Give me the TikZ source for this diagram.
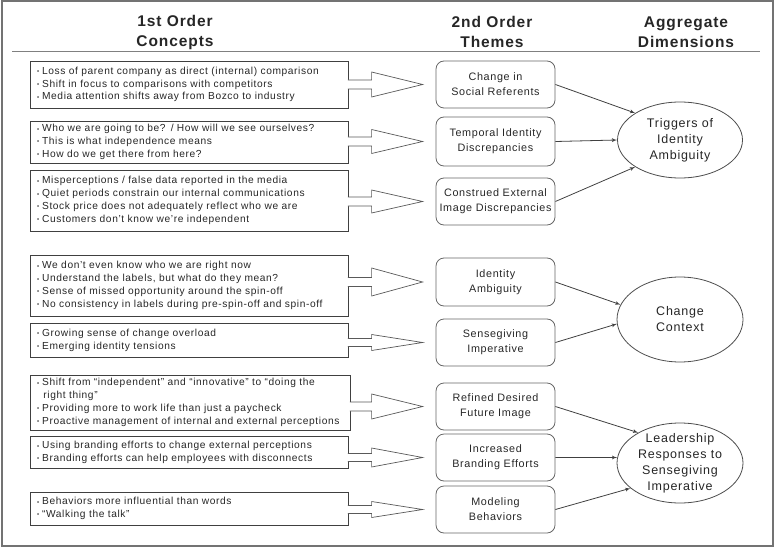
\documentclass[tikz,border=0pt]{standalone}
\usepackage{fontspec}
\setmainfont{Liberation Sans}[LetterSpace=6]
\usetikzlibrary{calc,arrows,shapes.geometric}

\tikzstyle{concept} = [draw=black!75, rectangle, line width=0.8pt,
    text width=304pt, inner xsep=7pt, inner ysep=0pt, align=left,
    font=\fontsize{10.2}{12.8}\selectfont]
\tikzstyle{theme} = [draw=black!60, rectangle, rounded corners=8pt, line width=0.8pt,
    minimum width=119pt, minimum height=47pt, align=center,
    font=\fontsize{10.8}{15}\selectfont]
\tikzstyle{dimension} = [draw=black!70, ellipse, line width=0.8pt, inner xsep=0pt,
    align=center, font=\fontsize{12.5}{16}\selectfont]
\tikzstyle{header} = [align=center, font=\bfseries\fontsize{15.5}{20}\selectfont]
\tikzstyle{barrow} = [draw=black!65, line width=0.7pt, fill=white]
\tikzstyle{link} = [->, draw=black!75, line width=0.8pt]

\newcommand{\bul}{\raisebox{0.7pt}{\fontsize{6}{6}\selectfont\textbullet}\hspace{3pt}}
\newcommand{\blockarrow}[4]{%
  \draw[barrow] let \p1 = (#1.east), \p2 = (#2.west) in
    (\x1-0.6pt,\y2+#3) -- (\x2-64pt,\y2+#3) -- (\x2-64pt,\y2+#4) -- (\x2-13pt,\y2)
    -- (\x2-64pt,\y2-#4) -- (\x2-64pt,\y2-#3) -- (\x1-0.6pt,\y2-#3);}

\begin{document}
\begin{tikzpicture}[x=1pt, y=-1pt, >=latex', color=black!85]
\useasboundingbox (0,0) rectangle (775,548);
\draw[black!55, line width=1.5pt] (2,1) rectangle (773,546);

% column heads
\node (head_concepts) [header] at (175,32) {1st Order\\Concepts};
\node (head_themes) [header] at (492,32) {2nd Order\\Themes};
\node (head_dims) [header] at (686,32) {Aggregate\\Dimensions};
\draw[black!50, line width=0.8pt] (12,51) -- (760,51);

% 1st order concepts
\node (c1) [concept, minimum height=47pt] at (189,84.5) {\bul Loss of parent company as direct (internal) comparison\\
  \bul Shift in focus to comparisons with competitors\\
  \bul Media attention shifts away from Bozco to industry};
\node (c2) [concept, minimum height=42pt] at (189,142) {\bul Who we are going to be? / How will we see ourselves?\\
  \bul This is what independence means\\
  \bul How do we get there from here?};
\node (c3) [concept, minimum height=61pt] at (189,200.5) {\bul Misperceptions / false data reported in the media\\
  \bul Quiet periods constrain our internal communications\\
  \bul Stock price does not adequately reflect who we are\\
  \bul Customers don’t know we’re independent};
\node (c4) [concept, minimum height=61pt] at (189,285.5) {\bul We don’t even know who we are right now\\
  \bul Understand the labels, but what do they mean?\\
  \bul Sense of missed opportunity around the spin-off\\
  \bul No consistency in labels during pre-spin-off and spin-off};
\node (c5) [concept, minimum height=34pt] at (189,340) {\bul Growing sense of change overload\\
  \bul Emerging identity tensions};
\node (c6) [concept, minimum height=55pt, text width=306pt] at (190,402.5) {\bul Shift from “independent” and “innovative” to “doing the\\
  \hspace{6.4pt}right thing”\\
  \bul Providing more to work life than just a paycheck\\
  \bul Proactive management of internal and external perceptions};
\node (c7) [concept, minimum height=32pt] at (189,452.5) {\bul Using branding efforts to change external perceptions\\
  \bul Branding efforts can help employees with disconnects};
\node (c8) [concept, minimum height=33pt] at (189,508.5) {\bul Behaviors more influential than words\\
  \bul “Walking the talk”};

% 2nd order themes
\node (t1) [theme] at (495.5,84.5) {Change in\\Social Referents};
\node (t2) [theme, minimum height=49pt] at (495.5,141.5) {Temporal Identity\\Discrepancies};
\node (t3) [theme] at (495.5,201.5) {Construed External\\Image Discrepancies};
\node (t4) [theme, minimum height=48pt] at (495.5,282) {Identity\\Ambiguity};
\node (t5) [theme] at (495.5,342.5) {Sensegiving\\Imperative};
\node (t6) [theme] at (495.5,406.5) {Refined Desired\\Future Image};
\node (t7) [theme] at (495.5,457.5) {Increased\\Branding Efforts};
\node (t8) [theme] at (495.5,509.5) {Modeling\\Behaviors};

% aggregate dimensions
\node (d1) [dimension, minimum width=125pt, minimum height=76pt] at (680,140) {Triggers of\\Identity\\Ambiguity};
\node (d2) [dimension, minimum width=126pt, minimum height=85pt] at (680,319.5) {Change\\Context};
\node (d3) [dimension, minimum width=126pt, minimum height=80pt, inner ysep=-6pt] at (680,463) {Leadership\\Responses to\\Sensegiving\\Imperative};

\blockarrow{c1}{t1}{4.5pt}{12.5pt}
\blockarrow{c2}{t2}{4.5pt}{12pt}
\blockarrow{c3}{t3}{4.5pt}{11.5pt}
\blockarrow{c4}{t4}{4.5pt}{14pt}
\blockarrow{c5}{t5}{4pt}{8pt}
\blockarrow{c6}{t6}{4.5pt}{12.5pt}
\blockarrow{c7}{t7}{4pt}{9.5pt}
\blockarrow{c8}{t8}{4pt}{8pt}

\draw[link] (t1.east) -- (d1.149);
\draw[link] (t2.east) -- (d1.west);
\draw[link] (t3.east) -- (d1.211);
\draw[link] (t4.east) -- (d2.166);
\draw[link] (t5.east) -- (d2.184);
\draw[link] (t6.east) -- (d3.144);
\draw[link] (t7.east) -- (d3.175);
\draw[link] (t8.east) -- (d3.207);
\end{tikzpicture}
\end{document}
